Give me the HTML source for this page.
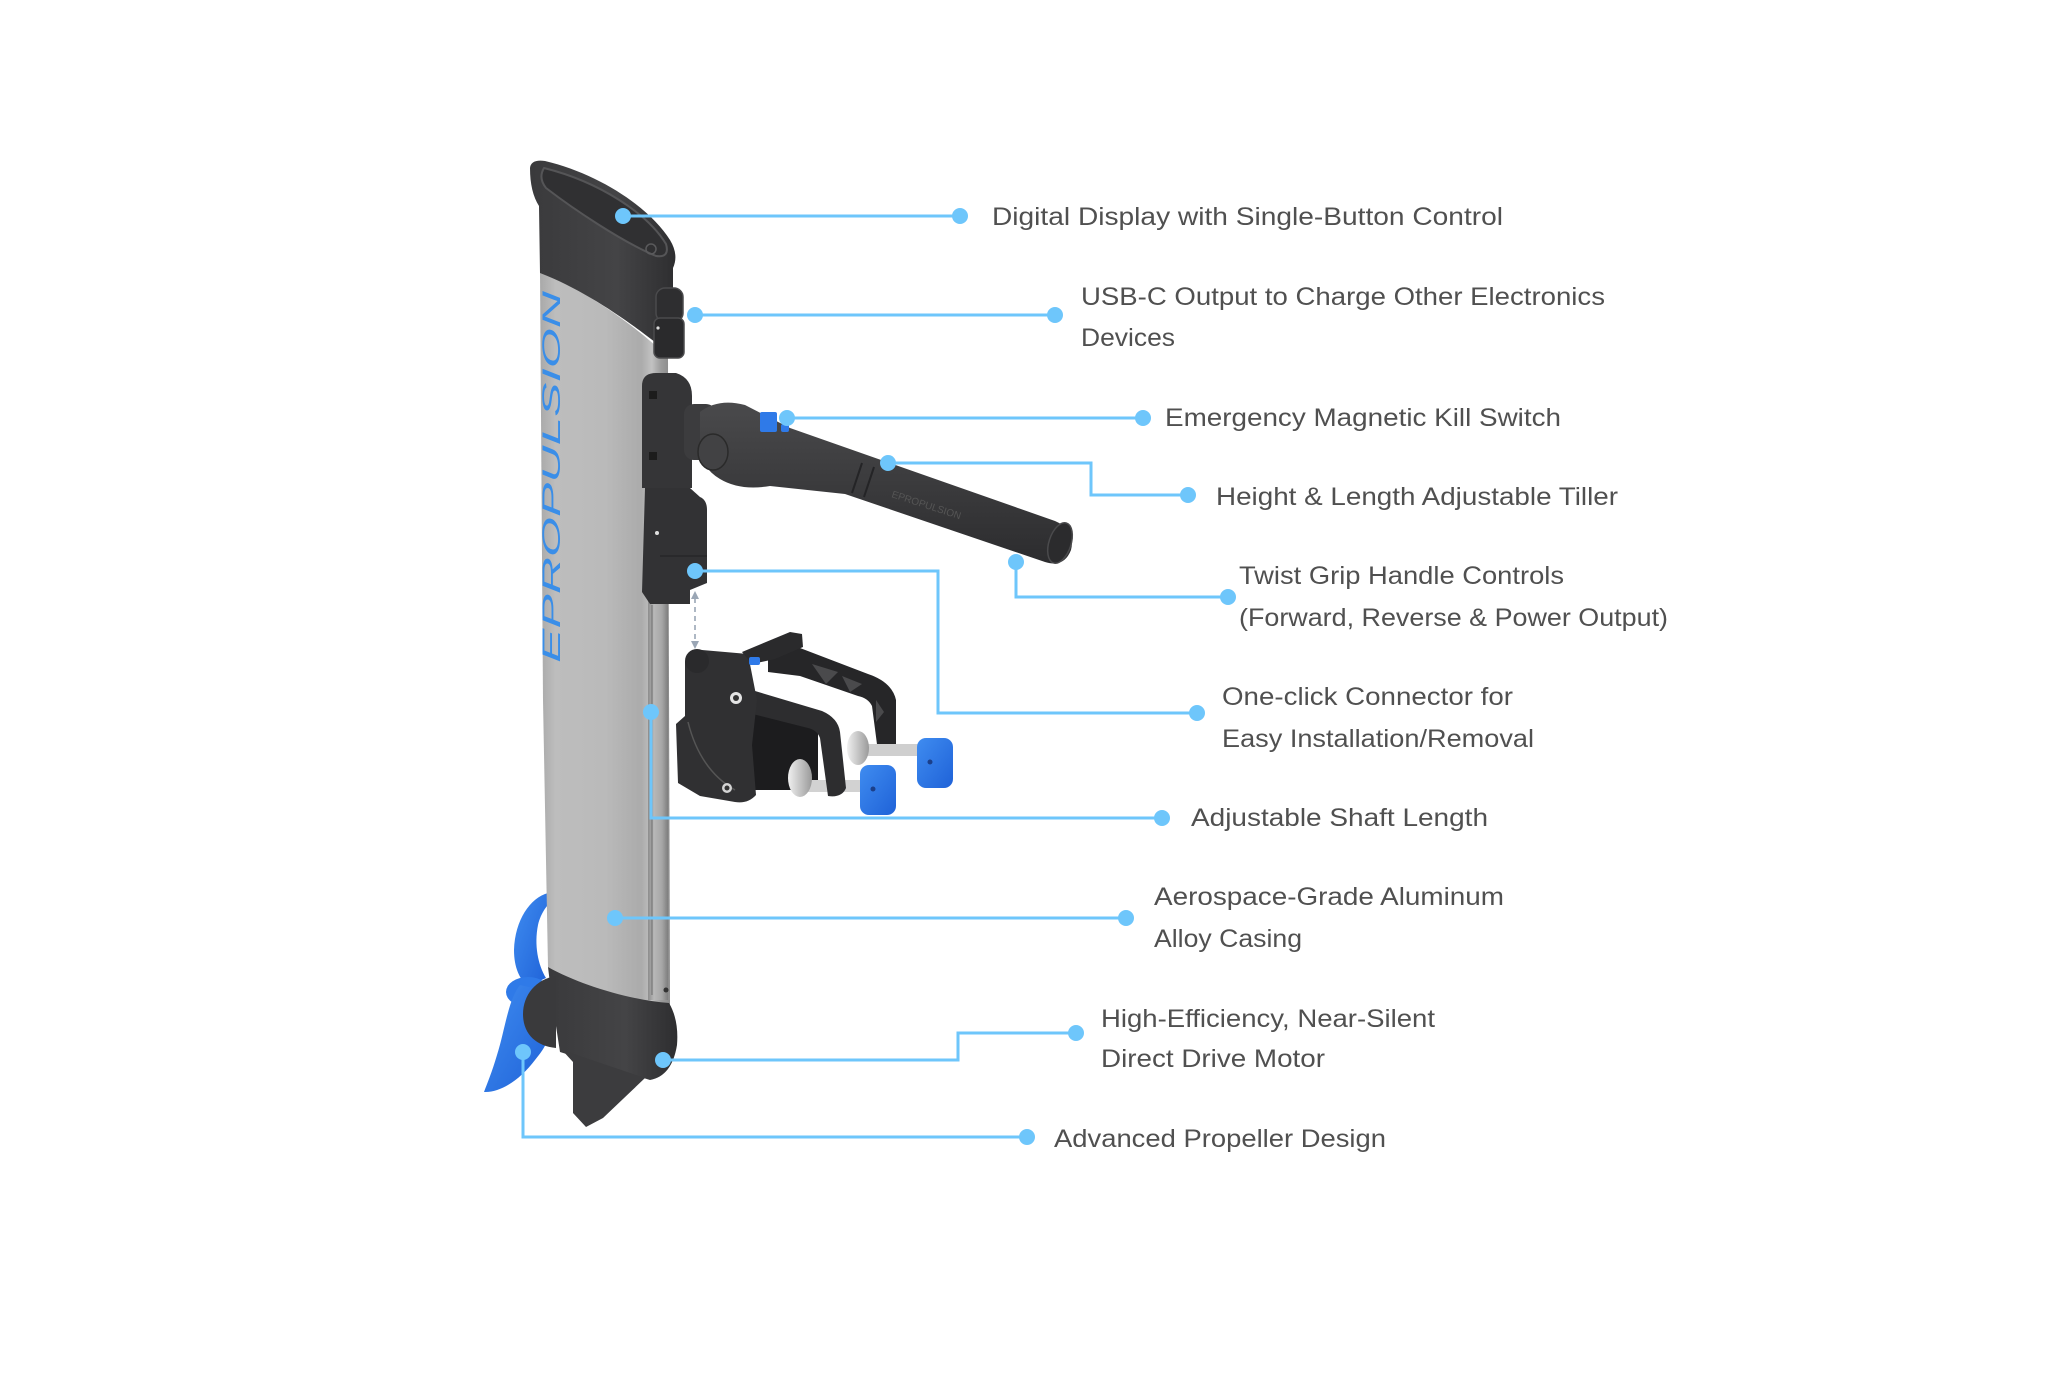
<!DOCTYPE html>
<html>
<head>
<meta charset="utf-8">
<style>
  html,body{margin:0;padding:0;background:#fff;}
  svg{display:block;}
  .lbl{font-family:"Liberation Sans",Arial,sans-serif;font-size:25px;fill:#505050;}
</style>
</head>
<body>
<svg width="2048" height="1397" viewBox="0 0 2048 1397" xmlns="http://www.w3.org/2000/svg">
  <defs>
    <linearGradient id="silver" x1="0" y1="0" x2="1" y2="0">
      <stop offset="0" stop-color="#a9a9a9"/>
      <stop offset="0.12" stop-color="#bdbdbd"/>
      <stop offset="0.5" stop-color="#bababa"/>
      <stop offset="0.78" stop-color="#ababab"/>
      <stop offset="0.86" stop-color="#c2c2c2"/>
      <stop offset="0.93" stop-color="#9c9c9c"/>
      <stop offset="1" stop-color="#8a8a8a"/>
    </linearGradient>
    <linearGradient id="track" x1="0" y1="0" x2="1" y2="0">
      <stop offset="0" stop-color="#8c8c8c"/>
      <stop offset="0.3" stop-color="#b8b8b8"/>
      <stop offset="0.7" stop-color="#a6a6a6"/>
      <stop offset="1" stop-color="#7e7e7e"/>
    </linearGradient>
    <linearGradient id="dark" x1="0" y1="0" x2="0" y2="1">
      <stop offset="0" stop-color="#4a4a4c"/>
      <stop offset="1" stop-color="#2c2c2e"/>
    </linearGradient>
    <linearGradient id="darkh" x1="0" y1="0" x2="1" y2="0">
      <stop offset="0" stop-color="#3a3a3c"/>
      <stop offset="0.6" stop-color="#444446"/>
      <stop offset="1" stop-color="#2e2e30"/>
    </linearGradient>
    <linearGradient id="blue" x1="0" y1="0" x2="1" y2="1">
      <stop offset="0" stop-color="#3f8cf0"/>
      <stop offset="1" stop-color="#1f62d8"/>
    </linearGradient>
    <linearGradient id="disc" x1="0" y1="0" x2="1" y2="0">
      <stop offset="0" stop-color="#f0f0f0"/>
      <stop offset="1" stop-color="#9a9a9a"/>
    </linearGradient>
  </defs>

  <rect width="2048" height="1397" fill="#ffffff"/>

  <!-- ===== Propeller (behind) ===== -->
  <path d="M548,893 C530,898 515,920 514,950 C514,968 520,980 528,986 L546,978 C538,965 534,945 538,925 C541,912 548,905 548,905 Z" fill="url(#blue)"/>
  <ellipse cx="528" cy="992" rx="22" ry="15" fill="#2f7ae8"/>
  <path d="M520,985 C508,1000 505,1030 497,1055 C492,1072 487,1084 484,1092 C500,1093 520,1080 535,1060 C545,1048 549,1040 549,1030 L542,990 Z" fill="url(#blue)"/>

  <!-- ===== Column (silver) ===== -->
  <path d="M540,272 C590,292 640,330 668,357 L670,1005 C630,1000 580,985 548,967 L543,700 Z" fill="url(#silver)"/>
  <rect x="648" y="600" width="20" height="400" fill="url(#track)"/>
  <line x1="652" y1="605" x2="652" y2="995" stroke="#777" stroke-width="1.2"/>

  <!-- EPROPULSION logo -->
  <text transform="translate(560,663) rotate(-90)" textLength="372" lengthAdjust="spacingAndGlyphs" font-family="Liberation Sans, Arial, sans-serif" font-size="25" font-style="italic" fill="#3a8ee8">EPROPULSION</text>

  <!-- ===== Top cap ===== -->
  <path d="M530,168 Q531,159 545,161 C600,174 650,208 670,240 Q679,255 673,268 L673,356 C640,330 592,293 540,273 L539,206 Q530,192 530,168 Z" fill="url(#darkh)"/>
  <path d="M544,168 C600,182 648,214 666,244 Q670,258 656,256 C622,242 572,208 546,188 Q538,178 544,168 Z" fill="#303032" stroke="#555557" stroke-width="2"/>
  <circle cx="651" cy="249" r="5" fill="none" stroke="#5a5a5c" stroke-width="1.5"/>
  <!-- USB module -->
  <rect x="656" y="288" width="27" height="34" rx="9" fill="#2e2e30" stroke="#4a4a4c" stroke-width="1.5"/>
  <rect x="654" y="318" width="30" height="40" rx="6" fill="#2a2a2c" stroke="#4a4a4c" stroke-width="1.5"/>
  <circle cx="658" cy="328" r="1.6" fill="#ddd"/>

  <!-- ===== Brackets ===== -->
  <path d="M642,386 Q642,373 656,373 L676,373 Q692,378 692,396 L692,488 L642,488 Z" fill="#353537"/>
  <rect x="649" y="391" width="8" height="8" fill="#1c1c1c"/>
  <rect x="649" y="452" width="8" height="8" fill="#1c1c1c"/>
  <rect x="684" y="404" width="32" height="56" rx="10" fill="#3c3c3e"/>
  <path d="M645,488 L690,488 L700,497 Q707,500 707,510 L707,583 L690,590 L690,604 L650,604 L642,592 Z" fill="#323234"/>
  <line x1="660" y1="556" x2="707" y2="556" stroke="#262628" stroke-width="1.5"/>
  <circle cx="657" cy="533" r="2" fill="#e0e0e0"/>

  <!-- ===== Tiller ===== -->
  <path d="M700,412 Q718,398 745,405 L790,428 L1055,521 Q1076,530 1071,550 Q1064,568 1045,562 L845,494 L770,486 Q740,491 720,479 Q698,466 700,440 Z" fill="url(#dark)"/>
  <ellipse cx="1060" cy="543" rx="11" ry="21" transform="rotate(18 1060 543)" fill="#2b2b2d" stroke="#4a4a4c" stroke-width="1.5"/>
  <ellipse cx="713" cy="452" rx="15" ry="18" fill="#424244" stroke="#2a2a2a" stroke-width="1.5"/>
  <line x1="862" y1="463" x2="852" y2="493" stroke="#242426" stroke-width="2"/>
  <line x1="874" y1="467" x2="864" y2="497" stroke="#242426" stroke-width="2"/>
  <text transform="translate(891,497) rotate(18)" font-family="Liberation Sans, Arial, sans-serif" font-size="10" fill="#555">EPROPULSION</text>
  <!-- kill switch -->
  <rect x="760" y="412" width="17" height="20" rx="2" fill="#2f7ae8"/>
  <rect x="781" y="424" width="8" height="8" rx="2" fill="#2f7ae8"/>

  <!-- ===== Dashed arrow ===== -->
  <line x1="695" y1="598" x2="695" y2="642" stroke="#9aa6b5" stroke-width="1.6" stroke-dasharray="5,4"/>
  <polygon points="691,599 699,599 695,591" fill="#9aa6b5"/>
  <polygon points="691,641 699,641 695,649" fill="#9aa6b5"/>

  <!-- ===== Clamp ===== -->
  <path d="M768,646 L800,648 L868,674 Q892,682 896,700 L896,748 Q890,756 878,752 L872,706 Q868,698 858,696 L800,676 L768,672 Z" fill="#262628"/>
  <polygon points="812,664 838,672 826,684" fill="#4a4a4c"/>
  <polygon points="842,676 862,684 850,692" fill="#4a4a4c"/>
  <polygon points="876,700 884,712 876,722" fill="#4a4a4c"/>
  <rect x="752" y="714" width="66" height="76" fill="#1c1c1e"/>
  <rect x="856" y="744" width="64" height="12" fill="#cfcfcf"/>
  <ellipse cx="858" cy="748" rx="11" ry="17" fill="url(#disc)"/>
  <rect x="800" y="780" width="64" height="12" fill="#d2d2d2"/>
  <path d="M745,688 L822,711 Q838,718 840,732 L846,788 Q842,798 828,796 L820,738 Q817,730 808,728 L745,712 Z" fill="#2d2d2f"/>
  <ellipse cx="800" cy="778" rx="12" ry="19" fill="url(#disc)"/>
  <path d="M685,662 Q688,651 702,650 L748,654 L757,700 L752,745 L756,795 Q748,804 735,802 L700,796 L678,783 L676,724 L685,716 Z" fill="#303032"/>
  <circle cx="697" cy="661" r="12" fill="#2a2a2c"/>
  <path d="M688,722 Q700,770 735,790" fill="none" stroke="#555" stroke-width="1.5"/>
  <circle cx="736" cy="698" r="6" fill="#e4e4e4"/>
  <circle cx="736" cy="698" r="3" fill="#333"/>
  <circle cx="727" cy="788" r="5" fill="#d4d4d4"/>
  <circle cx="727" cy="788" r="2.5" fill="#333"/>
  <polygon points="742,652 790,632 802,634 803,647 775,659 752,664" fill="#2a2a2c"/>
  <rect x="749" y="657" width="11" height="8" rx="2" fill="#2f7ae8"/>
  <rect x="917" y="738" width="36" height="50" rx="9" fill="url(#blue)"/>
  <circle cx="930" cy="762" r="2.5" fill="#1b3f8a"/>
  <rect x="860" y="765" width="36" height="50" rx="9" fill="url(#blue)"/>
  <circle cx="873" cy="789" r="2.5" fill="#1b3f8a"/>

  <!-- ===== Motor housing ===== -->
  <path d="M548,967 C580,985 630,1000 669,1003 Q679,1020 677,1045 Q672,1076 650,1080 L560,1052 L552,1000 Z" fill="url(#darkh)"/>
  <polygon points="562,1050 573,1062 573,1113 586,1127 603,1118 645,1078" fill="#3c3c3e"/>
  <path d="M556,976 C536,979 523,995 523,1014 C523,1034 536,1046 556,1048 Z" fill="#3a3a3c"/>
  <circle cx="666" cy="990" r="2.5" fill="#333"/>

  <!-- ===== Connector lines ===== -->
  <g fill="none" stroke="#6ec6fb" stroke-width="3">
    <polyline points="623,216 960,216"/>
    <polyline points="695,315 1055,315"/>
    <polyline points="787,418 1143,418"/>
    <polyline points="888,463 1091,463 1091,495 1188,495"/>
    <polyline points="1016,562 1016,597 1228,597"/>
    <polyline points="695,571 938,571 938,713 1197,713"/>
    <polyline points="651,712 651,818 1162,818"/>
    <polyline points="615,918 1126,918"/>
    <polyline points="663,1060 958,1060 958,1033 1076,1033"/>
    <polyline points="523,1052 523,1137 1027,1137"/>
  </g>
  <g fill="#6ec6fb">
    <circle cx="623" cy="216" r="8"/><circle cx="960" cy="216" r="8"/>
    <circle cx="695" cy="315" r="8"/><circle cx="1055" cy="315" r="8"/>
    <circle cx="787" cy="418" r="8"/><circle cx="1143" cy="418" r="8"/>
    <circle cx="888" cy="463" r="8"/><circle cx="1188" cy="495" r="8"/>
    <circle cx="1016" cy="562" r="8"/><circle cx="1228" cy="597" r="8"/>
    <circle cx="695" cy="571" r="8"/><circle cx="1197" cy="713" r="8"/>
    <circle cx="651" cy="712" r="8"/><circle cx="1162" cy="818" r="8"/>
    <circle cx="615" cy="918" r="8"/><circle cx="1126" cy="918" r="8"/>
    <circle cx="663" cy="1060" r="8"/><circle cx="1076" cy="1033" r="8"/>
    <circle cx="523" cy="1052" r="8"/><circle cx="1027" cy="1137" r="8"/>
  </g>

  <!-- ===== Labels ===== -->
  <text class="lbl" x="992" y="225" textLength="511" lengthAdjust="spacingAndGlyphs">Digital Display with Single-Button Control</text>
  <text class="lbl" x="1081" y="305" textLength="524" lengthAdjust="spacingAndGlyphs">USB-C Output to Charge Other Electronics</text>
  <text class="lbl" x="1081" y="346" textLength="94" lengthAdjust="spacingAndGlyphs">Devices</text>
  <text class="lbl" x="1165" y="426" textLength="396" lengthAdjust="spacingAndGlyphs">Emergency Magnetic Kill Switch</text>
  <text class="lbl" x="1216" y="505" textLength="402" lengthAdjust="spacingAndGlyphs">Height &amp; Length Adjustable Tiller</text>
  <text class="lbl" x="1239" y="584" textLength="325" lengthAdjust="spacingAndGlyphs">Twist Grip Handle Controls</text>
  <text class="lbl" x="1239" y="626" textLength="429" lengthAdjust="spacingAndGlyphs">(Forward, Reverse &amp; Power Output)</text>
  <text class="lbl" x="1222" y="705" textLength="291" lengthAdjust="spacingAndGlyphs">One-click Connector for</text>
  <text class="lbl" x="1222" y="747" textLength="312" lengthAdjust="spacingAndGlyphs">Easy Installation/Removal</text>
  <text class="lbl" x="1191" y="826" textLength="297" lengthAdjust="spacingAndGlyphs">Adjustable Shaft Length</text>
  <text class="lbl" x="1154" y="905" textLength="350" lengthAdjust="spacingAndGlyphs">Aerospace-Grade Aluminum</text>
  <text class="lbl" x="1154" y="947" textLength="148" lengthAdjust="spacingAndGlyphs">Alloy Casing</text>
  <text class="lbl" x="1101" y="1027" textLength="334" lengthAdjust="spacingAndGlyphs">High-Efficiency, Near-Silent</text>
  <text class="lbl" x="1101" y="1067" textLength="224" lengthAdjust="spacingAndGlyphs">Direct Drive Motor</text>
  <text class="lbl" x="1054" y="1147" textLength="332" lengthAdjust="spacingAndGlyphs">Advanced Propeller Design</text>
</svg>
</body>
</html>
